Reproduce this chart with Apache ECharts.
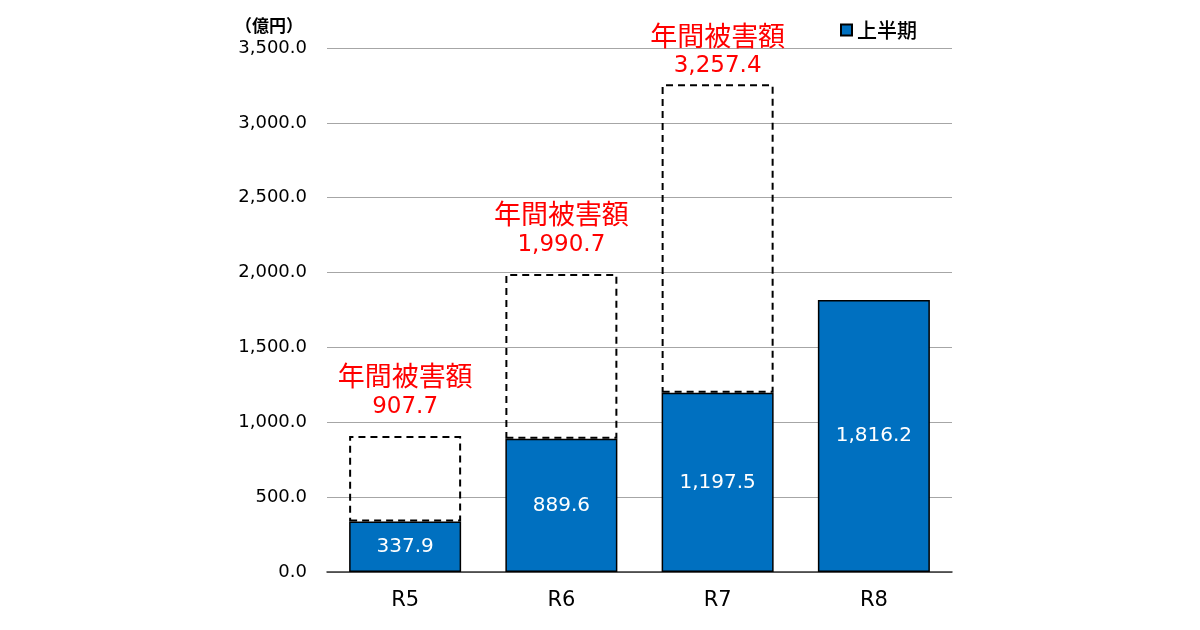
<!DOCTYPE html>
<html>
<head>
<meta charset="utf-8">
<script src="https://cdn.jsdelivr.net/npm/echarts@6/dist/echarts.min.js"></script>
<style>
html, body { margin: 0; padding: 0; background: #fff; }
#chart { width: 1200px; height: 630px; }
</style>
</head>
<body>
<div id="chart"></div>
<script>
const categories = ['R5', 'R6', 'R7', 'R8'];
const firstHalf = [337.9, 889.6, 1197.5, 1816.2];   // 上半期
const annualTotal = [907.7, 1990.7, 3257.4, null];  // 年間被害額
const yTicks = [0, 500, 1000, 1500, 2000, 2500, 3000, 3500];

const FONT = '"DejaVu Sans", "Noto Sans CJK JP", sans-serif';
const JP = '"Noto Sans CJK JP", sans-serif';

function fmt(v) {
    return Number(v).toLocaleString('en-US', { minimumFractionDigits: 1, maximumFractionDigits: 1 });
}

// 点線部分 = 年間 - 上半期
const restPart = annualTotal.map((t, i) => {
    if (t == null) return null;
    const item = { value: +(t - firstHalf[i]).toFixed(1) };
    if (t > 3000) { // 上端に近いラベルは少し下げる
        item.label = { offset: [0, 11] };
    }
    return item;
});

const chart = echarts.init(document.getElementById('chart'));
chart.setOption({
    animation: false,
    grid: { left: 327, right: 248, top: 48, bottom: 58 },
    legend: {
        data: [{ name: '上半期', icon: 'rect' }],
        right: 278, top: 15,
        itemWidth: 11, itemHeight: 11, itemGap: 6,
        textStyle: { fontFamily: JP, fontSize: 20, color: '#000', fontWeight: 500 }
    },
    xAxis: {
        type: 'category',
        data: categories,
        axisTick: { show: false },
        axisLine: { lineStyle: { color: '#333', width: 1.5 } },
        axisLabel: { fontFamily: FONT, fontSize: 21, color: '#000', margin: 18 }
    },
    yAxis: {
        type: 'value',
        min: yTicks[0], max: yTicks[yTicks.length - 1], interval: 500,
        name: '（億円）',
        nameLocation: 'end',
        nameGap: 14,
        nameTextStyle: { fontFamily: JP, fontSize: 17, color: '#000', fontWeight: 'bold', align: 'right', padding: [0, 24, 0, 0] },
        axisLine: { show: false },
        axisTick: { show: false },
        splitLine: { lineStyle: { color: '#a6a6a6', width: 1.2 } },
        axisLabel: { fontFamily: FONT, fontSize: 18, color: '#000', margin: 20, formatter: v => fmt(v) }
    },
    series: [
        {
            name: '上半期',
            type: 'bar',
            stack: 'a',
            barWidth: 112,
            data: firstHalf,
            itemStyle: { color: '#0070c0', borderColor: '#000', borderWidth: 1.5 },
            label: {
                show: true, position: 'inside', color: '#fff',
                fontFamily: FONT, fontSize: 20,
                formatter: p => fmt(p.value)
            }
        },
        {
            name: '年間被害額',
            type: 'bar',
            stack: 'a',
            barWidth: 112,
            data: restPart,
            itemStyle: { color: 'rgba(0,0,0,0)', borderColor: '#000', borderWidth: 2, borderType: [7, 5] },
            label: {
                show: true, position: 'top', distance: 14,
                align: 'center',
                formatter: p => '{t|年間被害額}\n{n|' + fmt(annualTotal[p.dataIndex]) + '}',
                rich: {
                    t: { fontFamily: JP, fontSize: 27, color: '#ff0000', lineHeight: 32, align: 'center' },
                    n: { fontFamily: FONT, fontSize: 23, color: '#ff0000', lineHeight: 30, align: 'center' }
                }
            }
        }
    ]
});
</script>
</body>
</html>
